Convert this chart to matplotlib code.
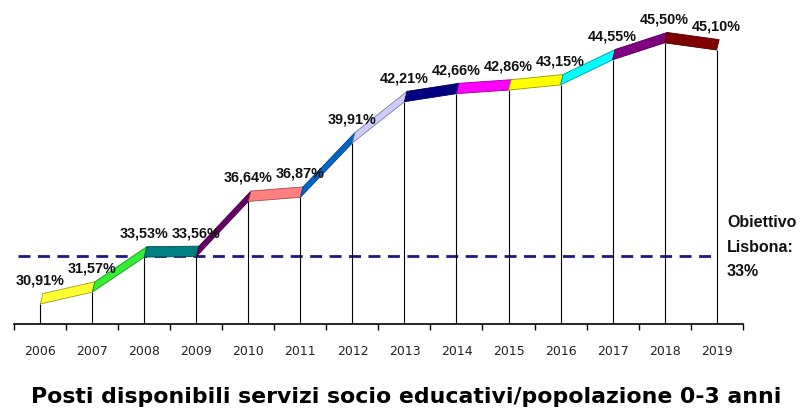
import numpy as np
import matplotlib
matplotlib.use('Agg')
import matplotlib.pyplot as plt
from matplotlib.patches import Polygon
from matplotlib.colors import to_rgb

# dati
anni = ['2006', '2007', '2008', '2009', '2010', '2011', '2012',
        '2013', '2014', '2015', '2016', '2017', '2018', '2019']
valori = [30.91, 31.57, 33.53, 33.56, 36.64, 36.87, 39.91,
          42.21, 42.66, 42.86, 43.15, 44.55, 45.50, 45.10]
etichette = ['30,91%', '31,57%', '33,53%', '33,56%', '36,64%', '36,87%', '39,91%',
             '42,21%', '42,66%', '42,86%', '43,15%', '44,55%', '45,50%', '45,10%']
obiettivo = 33.0
titolo = 'Posti disponibili servizi socio educativi/popolazione 0-3 anni'
testo_obiettivo = 'Obiettivo\nLisbona:\n33%'

# colori dei segmenti (palette stile Excel)
colori = ['#FFFF33', '#33EE33', '#008080', '#660066', '#FF8080', '#0066CC',
          '#CCCCFF', '#000080', '#FF00FF', '#FFFF00', '#00FFFF', '#800080', '#800000']

# profondita' del nastro 3D (in unita' dati)
DX = 0.05
DY = 0.58

fig = plt.figure(figsize=(8.12, 4.09), dpi=100)
ax = fig.add_axes([14.3 / 812, 1 - 324 / 409, 728.3 / 812, 308 / 409])

x = np.arange(len(anni))
ax.set_xlim(-0.5, len(anni) - 0.5)
ax.set_ylim(29.79, 47.0)

# linee verticali dai punti alla base
ax.vlines(x, 29.79, valori, color='black', linewidth=0.8, zorder=2)

# linea tratteggiata obiettivo (sul piano posteriore)
ax.plot([-0.42, 13.0], [obiettivo + DY, obiettivo + DY], color='#1a1a80',
        linewidth=2.0, dashes=(4.3, 2.7), zorder=1)

# nastro 3D: un segmento per coppia di anni
for i in range(len(anni) - 1):
    c = to_rgb(colori[i])
    bordo = tuple(v * 0.6 for v in c)
    pts = [(x[i], valori[i]), (x[i + 1], valori[i + 1]),
           (x[i + 1] + DX, valori[i + 1] + DY), (x[i] + DX, valori[i] + DY)]
    ax.add_patch(Polygon(pts, closed=True, facecolor=c, edgecolor=bordo,
                         linewidth=0.6, zorder=3))

# etichette dei valori
for xi, v, lab in zip(x, valori, etichette):
    ax.annotate(lab, (xi, v), xytext=(0, 14), textcoords='offset points',
                ha='center', va='baseline', fontsize=10.4, fontweight='bold',
                family='Liberation Sans', color='#111111', zorder=4)

# assi
for s in ['top', 'right', 'left']:
    ax.spines[s].set_visible(False)
ax.spines['bottom'].set_linewidth(1.2)
ax.set_yticks([])
ax.set_xticks(x)
ax.set_xticklabels(anni, fontsize=9, family='DejaVu Sans', color='#222222')
ax.tick_params(axis='x', which='major', length=0, pad=15)
ax.set_xticks(np.arange(-0.5, len(anni)), minor=True)
ax.tick_params(axis='x', which='minor', length=4.5, width=1.0, color='black')

fig.text(727 / 812, 1 - 215 / 409, testo_obiettivo, ha='left', va='top',
         fontsize=11.5, fontweight='bold', family='Liberation Sans',
         linespacing=1.8, color='#111111')

fig.text(0.5, 1 - 397 / 409, titolo, ha='center', va='center',
         fontsize=15.8, fontweight='bold', family='DejaVu Sans')

fig.savefig('out.png', dpi=100)
